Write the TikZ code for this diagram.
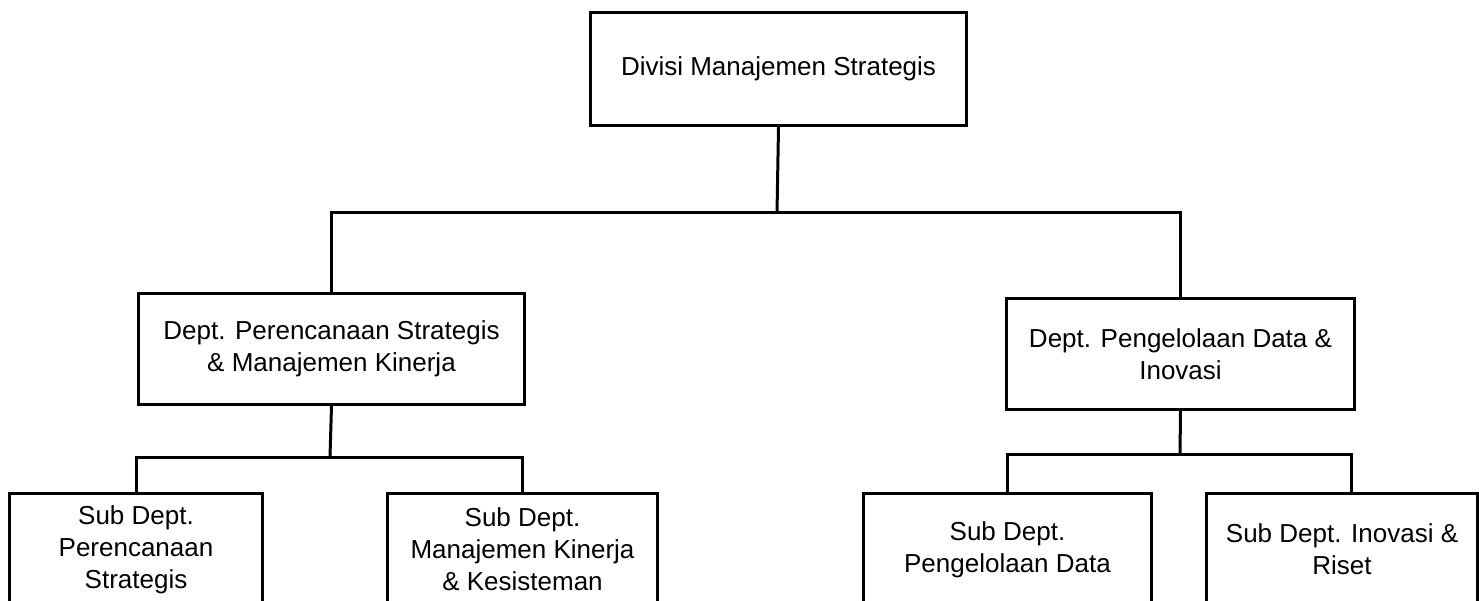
\documentclass[tikz,border=0pt]{standalone}
\usepackage{fontspec}
\setmainfont{Liberation Sans}
\begin{document}
\begin{tikzpicture}[x=1pt,y=-1pt,
  unit/.style={draw=black, line width=3pt, rectangle, inner sep=0pt,
    align=center, font=\fontsize{26}{32}\selectfont, anchor=north west},
  link/.style={draw=black, line width=3pt}]
  \useasboundingbox (0,0) rectangle (1479,601);
  \clip (0,0) rectangle (1479,601);
  \fill[white] (0,0) rectangle (1479,601);

  % division
  \node[unit, minimum width=376pt, minimum height=113pt] (div) at (589,11)
    {Divisi Manajemen Strategis};

  % departments
  \node[unit, minimum width=386pt, minimum height=111pt] (dps) at (137,292)
    {Dept. Perencanaan Strategis\\ \& Manajemen Kinerja};
  \node[unit, minimum width=348pt, minimum height=111pt] (dpd) at (1005,297)
    {Dept. Pengelolaan Data \&\\ Inovasi};

  % sub departments
  \node[unit, minimum width=253pt, minimum height=112pt] (sps) at (8,492)
    {Sub Dept.\\ Perencanaan\\ Strategis};
  \node[unit, minimum width=270pt, minimum height=112pt] (smk) at (386,492)
    {Sub Dept.\\ Manajemen Kinerja\\ \& Kesisteman};
  \node[unit, minimum width=288pt, minimum height=112pt] (spd) at (862,492)
    {Sub Dept.\\ Pengelolaan Data};
  \node[unit, minimum width=271pt, minimum height=112pt] (sir) at (1205,492)
    {Sub Dept. Inovasi \&\\ Riset};

  % bus junctions
  \coordinate (bus) at (777,213);
  \coordinate (busl) at (330,457);
  \coordinate (busr) at (1180,454);

  \draw[link] (div.south) -- (bus);
  \draw[link] (dps.north) |- (bus) -| (dpd.north);
  \draw[link] (dps.south) -- (busl);
  \draw[link] (sps.north) |- (busl) -| (smk.north);
  \draw[link] (dpd.south) -- (busr);
  \draw[link] (spd.north) |- (busr) -| ([xshift=9pt]sir.north);
\end{tikzpicture}
\end{document}
